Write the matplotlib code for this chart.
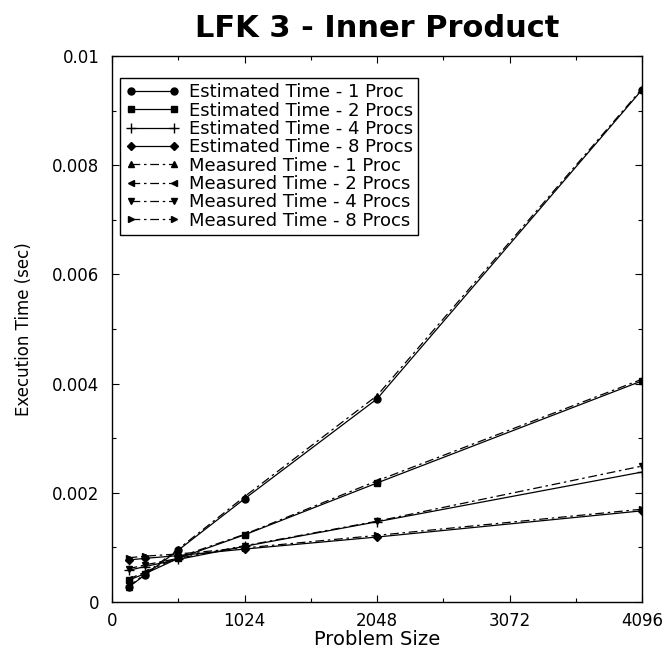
import matplotlib
matplotlib.use("Agg")
import matplotlib.pyplot as plt
from matplotlib.ticker import MultipleLocator

plt.rcParams['font.family'] = ['DejaVu Sans']

sizes = [128, 256, 512, 1024, 2048, 4096]
est_1 = [0.00027, 0.00050, 0.00095, 0.00189, 0.00372, 0.00938]
est_2 = [0.00040, 0.00052, 0.00080, 0.00123, 0.00218, 0.00405]
est_4 = [0.00058, 0.00065, 0.00078, 0.00102, 0.00147, 0.00238]
est_8 = [0.00077, 0.00080, 0.00085, 0.00097, 0.00119, 0.00167]
meas_1 = [0.00028, 0.00052, 0.00097, 0.00193, 0.00378, 0.00940]
meas_2 = [0.00042, 0.00055, 0.00082, 0.00124, 0.00222, 0.00408]
meas_4 = [0.00061, 0.00068, 0.00080, 0.00103, 0.00148, 0.00249]
meas_8 = [0.00081, 0.00084, 0.00088, 0.00099, 0.00122, 0.00170]

labels = ["Estimated Time - 1 Proc", "Estimated Time - 2 Procs",
          "Estimated Time - 4 Procs", "Estimated Time - 8 Procs",
          "Measured Time - 1 Proc", "Measured Time - 2 Procs",
          "Measured Time - 4 Procs", "Measured Time - 8 Procs"]
series = [est_1, est_2, est_4, est_8, meas_1, meas_2, meas_4, meas_8]
markers = ['o', 's', '+', 'D', '^', '<', 'v', '>']
msizes = [5, 5, 7, 4, 5, 5, 5, 5]

fig = plt.figure(figsize=(6.67, 6.49), dpi=100)
ax = fig.add_axes([0.168, 0.0724, 0.7945, 0.8413])

for i, (vals, lab, mk, ms) in enumerate(zip(series, labels, markers, msizes)):
    ls = '-' if i < 4 else (0, (7, 3, 2, 3))
    ax.plot(sizes, vals, color='black', linestyle=ls, linewidth=0.9,
            marker=mk, markersize=ms, markeredgewidth=1.0, label=lab)

ax.set_xlim(0, 4096)
ax.set_ylim(0, 0.01)
ax.set_xticks([0, 1024, 2048, 3072, 4096])
ax.xaxis.set_minor_locator(MultipleLocator(512))
ax.set_yticks([0, 0.002, 0.004, 0.006, 0.008, 0.01])
ax.set_yticklabels(["0", "0.002", "0.004", "0.006", "0.008", "0.01"])
ax.yaxis.set_minor_locator(MultipleLocator(0.001))
ax.tick_params(which='both', direction='in', top=True, right=True,
               labelsize=12, length=5, width=0.8)
ax.tick_params(which='minor', length=3)
ax.tick_params(axis='x', which='major', pad=7)
ax.tick_params(axis='y', which='major', pad=9)
for s in ax.spines.values():
    s.set_linewidth(1.0)

ax.set_xlabel("Problem Size", fontsize=14, labelpad=0)
ax.set_ylabel("Execution Time (sec)", fontsize=12)
ax.yaxis.set_label_coords(-0.149, 0.5)
ax.set_title("LFK 3 - Inner Product", fontsize=22, fontweight='bold', pad=14)

leg = ax.legend(loc='upper left', bbox_to_anchor=(0.015, 0.96), fontsize=13,
                frameon=True, fancybox=False, edgecolor='black', framealpha=1,
                numpoints=2, handlelength=3.0, borderpad=0.3, labelspacing=0.02,
                handletextpad=0.5, borderaxespad=0.0)
leg.get_frame().set_linewidth(1.0)

fig.savefig("out.png", dpi=100)
